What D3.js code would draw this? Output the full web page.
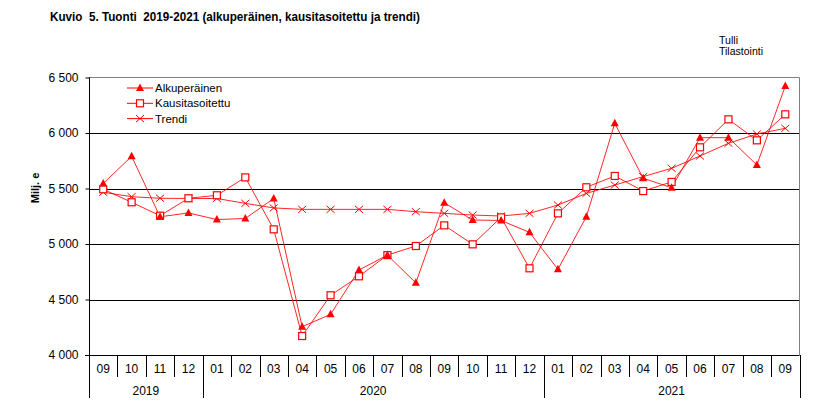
<!DOCTYPE html>
<html><head><meta charset="utf-8">
<script src="https://cdn.jsdelivr.net/npm/d3@7"></script>
<style>body{margin:0;background:#fff}svg{display:block}text{font-family:"Liberation Sans",Arial,sans-serif}</style>
</head><body><div id="chart"></div>
<script>
const months = ["09","10","11","12","01","02","03","04","05","06","07","08","09","10","11","12","01","02","03","04","05","06","07","08","09"];
const years = [{label:"2019",start:0,end:4},{label:"2020",start:4,end:16},{label:"2021",start:16,end:25}];
const alkuperainen = [5545,5790,5245,5280,5220,5230,5410,4255,4366,4766,4900,4650,5372,5216,5212,5105,4772,5246,6087,5592,5507,5958,5958,5712,6423];
const kausitasoitettu = [5493,5376,5255,5412,5439,5600,5132,4171,4538,4709,4900,4982,5168,4997,5240,4781,5276,5511,5613,5477,5559,5871,6123,5934,6168];
const trendi = [5466,5426,5412,5410,5410,5366,5325,5312,5312,5312,5312,5291,5276,5261,5252,5276,5351,5456,5531,5607,5682,5793,5907,5991,6042];
const yTicks = [4000,4500,5000,5500,6000,6500];
const seriesNames = ["Alkuperäinen","Kausitasoitettu","Trendi"];

const W=831,H=416, L=89, R=799.5, T=77.5, B=355;
const svg=d3.select("#chart").append("svg").attr("width",W).attr("height",H);
const x=d3.scaleBand().domain(d3.range(months.length)).range([L,R]).padding(0);
const y=d3.scaleLinear().domain([4000,6500]).range([B,T]);
const red="#ff0000";

// title
svg.append("text").attr("x",50).attr("y",20.5).attr("font-weight","bold").attr("font-size",12)
  .style("font-family","'Liberation Sans Narrow','Arial Narrow','Liberation Sans',sans-serif")
  .attr("textLength",370).attr("lengthAdjust","spacingAndGlyphs")
  .text("Kuvio\u00a0\u00a05. Tuonti\u00a0\u00a02019-2021 (alkuperäinen, kausitasoitettu ja trendi)");
const src=svg.append("g").attr("font-size",11).style("font-family","'Liberation Sans Narrow','Arial Narrow','Liberation Sans',sans-serif");
src.append("text").attr("x",719).attr("y",43.5).attr("textLength",19).attr("lengthAdjust","spacingAndGlyphs").text("Tulli");
src.append("text").attr("x",719).attr("y",54.5).attr("textLength",44).attr("lengthAdjust","spacingAndGlyphs").text("Tilastointi");

// gridlines
svg.append("g").selectAll("line").data(yTicks.filter(d=>d>4000&&d<6500)).join("line")
  .attr("x1",L).attr("x2",R).attr("y1",d=>Math.round(y(d))+0.5).attr("y2",d=>Math.round(y(d))+0.5)
  .attr("stroke","#000").attr("stroke-width",1);
// frame top/right gray
svg.append("line").attr("x1",L).attr("x2",R).attr("y1",T).attr("y2",T).attr("stroke","#808080");
svg.append("line").attr("x1",R).attr("x2",R).attr("y1",T).attr("y2",B).attr("stroke","#808080");

// y axis
const yAxis=d3.axisLeft(y).tickValues(yTicks).tickSize(4).tickPadding(7)
  .tickFormat(d=>d3.format(",")(d).replace(",","\u00a0"));
const gy=svg.append("g").attr("transform",`translate(${L+0.5},0)`).call(yAxis);
gy.select(".domain").attr("stroke","#000").attr("d",`M0,${T}V${B}`);
gy.selectAll(".tick line").attr("stroke","#000");
gy.selectAll(".tick text").attr("font-size",12).attr("fill","#000").style("font-family","'Liberation Sans',Arial,sans-serif");
svg.append("text").attr("transform",`translate(39,188) rotate(-90)`).attr("text-anchor","middle")
  .attr("font-weight","bold").attr("font-size",11).text("Milj. e");

// x axis
const gx=svg.append("g");
gx.append("line").attr("x1",L-4).attr("x2",R).attr("y1",B+0.5).attr("y2",B+0.5).attr("stroke","#000");
gx.selectAll("line.m").data(d3.range(1,months.length)).join("line").attr("class","m")
  .attr("x1",d=>Math.round(x(d))+0.5).attr("x2",d=>Math.round(x(d))+0.5).attr("y1",B).attr("y2",377).attr("stroke","#000");
const yb=[0,...years.map(d=>d.end)];
gx.selectAll("line.yb").data(yb).join("line").attr("class","yb")
  .attr("x1",d=>Math.round(x(d)??R)+0.5).attr("x2",d=>Math.round(x(d)??R)+0.5).attr("y1",B).attr("y2",398).attr("stroke","#000");
gx.selectAll("text.m").data(months).join("text").attr("class","m")
  .attr("x",(d,i)=>x(i)+x.bandwidth()/2).attr("y",372.5).attr("text-anchor","middle").attr("font-size",12).text(d=>d);
gx.selectAll("text.y").data(years).join("text").attr("class","y")
  .attr("x",d=>((x(d.start))+(d.end<months.length?x(d.end):R))/2).attr("y",394.5).attr("text-anchor","middle").attr("font-size",12).text(d=>d.label);

// series
const cx=i=>x(i)+x.bandwidth()/2;
const line=d3.line().x((d,i)=>cx(i)).y(d=>y(d));
const series=[alkuperainen,kausitasoitettu,trendi];
const g=svg.append("g");
series.forEach(s=>g.append("path").attr("d",line(s)).attr("fill","none").attr("stroke",red).attr("stroke-width",1).attr("stroke-opacity",0.85));

function tri(sel,px,py){sel.append("path").attr("d",`M${px},${py-4.5}L${px+4},${py+3}L${px-4},${py+3}Z`).attr("fill",red);}
function sq(sel,px,py){sel.append("rect").attr("x",px-3.5).attr("y",py-3.5).attr("width",7).attr("height",7).attr("fill","#fff").attr("stroke",red).attr("stroke-width",1.2);}
function cross(sel,px,py){sel.append("path").attr("d",`M${px-4},${py-3.5}L${px+4},${py+3.5}M${px-4},${py+3.5}L${px+4},${py-3.5}`).attr("stroke",red).attr("stroke-width",1).attr("fill","none");}
const markers=[tri,sq,cross];
trendi.forEach((v,i)=>cross(g,cx(i),y(v)));
kausitasoitettu.forEach((v,i)=>sq(g,cx(i),y(v)));
alkuperainen.forEach((v,i)=>tri(g,cx(i),y(v)));

// legend
const lg=svg.append("g");
seriesNames.forEach((n,i)=>{
  const ly=88+i*15.3;
  lg.append("line").attr("x1",127).attr("x2",153).attr("y1",ly).attr("y2",ly).attr("stroke",red);
  markers[i](lg,140,ly);
  lg.append("text").attr("x",155).attr("y",ly+4).attr("font-size",11.5).text(n);
});
</script></body></html>
